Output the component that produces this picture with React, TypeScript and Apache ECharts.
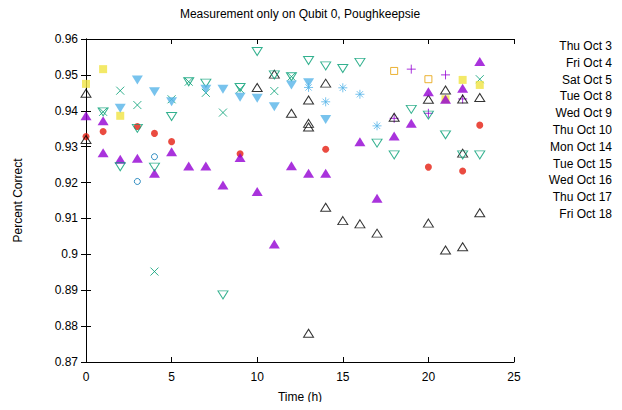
import React, { useEffect, useRef } from "react";
import * as echarts from "echarts";

const title = "Measurement only on Qubit 0, Poughkeepsie";
const xName = "Time (h)";
const yName = "Percent Correct";

const seriesNames = [
  "Thu Oct 3", "Fri Oct 4", "Sat Oct 5", "Tue Oct 8", "Wed Oct 9", "Thu Oct 10",
  "Mon Oct 14", "Tue Oct 15", "Wed Oct 16", "Thu Oct 17", "Fri Oct 18",
];

const thuOct3: [number, number][] = [[18, 0.9379], [19, 0.9516], [20, 0.9393], [21, 0.95], [22, 0.9433]];
const friOct4: [number, number][] = [[1, 0.9397], [2, 0.9456], [3, 0.9416], [4, 0.8952], [5, 0.9432], [6, 0.9481], [7, 0.945], [8, 0.9395], [9, 0.946], [11, 0.9455], [12, 0.9495], [23, 0.9488]];
const satOct5: [number, number][] = [[13, 0.9465], [14, 0.9425], [15, 0.9464], [16, 0.9446], [17, 0.9358]];
const tueOct8: [number, number][] = [[18, 0.9511], [20, 0.9488]];
const wedOct9: [number, number][] = [[0, 0.9475], [1, 0.9516], [2, 0.9386], [21, 0.9432], [22, 0.9486], [23, 0.9472]];
const thuOct10: [number, number][] = [[3, 0.9203], [4, 0.9272]];
const monOct14: [number, number][] = [[0, 0.9328], [1, 0.9342], [3, 0.9356], [4, 0.9337], [5, 0.9314], [9, 0.928], [14, 0.9293], [20, 0.9243], [22, 0.9232], [23, 0.936]];
const tueOct15: [number, number][] = [[0, 0.9449], [0, 0.932], [10, 0.9465], [11, 0.9502], [12, 0.9393], [13, 0.943], [13, 0.9365], [13, 0.9355], [13, 0.878], [14, 0.9477], [14, 0.9131], [15, 0.9094], [16, 0.9085], [17, 0.9059], [18, 0.9382], [20, 0.9432], [20, 0.9087], [21, 0.9458], [21, 0.9012], [22, 0.9433], [22, 0.9282], [22, 0.9021], [23, 0.9437], [23, 0.9116]];
const wedOct16: [number, number][] = [[0, 0.9386], [1, 0.9372], [1, 0.9283], [2, 0.9265], [3, 0.9268], [4, 0.9226], [5, 0.9286], [6, 0.9246], [7, 0.9246], [8, 0.9193], [9, 0.927], [10, 0.9175], [11, 0.9029], [12, 0.9247], [13, 0.9226], [14, 0.9226], [16, 0.9314], [17, 0.9156], [18, 0.933], [19, 0.9365], [20, 0.9453], [21, 0.9432], [22, 0.9463], [23, 0.9537]];
const thuOct17: [number, number][] = [[1, 0.9397], [2, 0.9244], [3, 0.9351], [4, 0.9243], [5, 0.9384], [6, 0.9481], [7, 0.9477], [8, 0.8887], [9, 0.9465], [10, 0.9565], [11, 0.95], [12, 0.9495], [13, 0.954], [14, 0.9525], [15, 0.9518], [16, 0.9535], [17, 0.931], [18, 0.9277], [19, 0.9404], [20, 0.9388], [21, 0.9333], [22, 0.9277], [23, 0.9277]];
const friOct18: [number, number][] = [[2, 0.9407], [3, 0.9486], [4, 0.9453], [5, 0.9425], [7, 0.946], [8, 0.946], [9, 0.9438], [10, 0.9435], [11, 0.9411], [12, 0.9472], [13, 0.9478], [14, 0.9376]];

const allData = [thuOct3, friOct4, satOct5, tueOct8, wedOct9, thuOct10, monOct14, tueOct15, wedOct16, thuOct17, friOct18];

const colors = ["#9400D3", "#009E73", "#56B4E9", "#E69F00", "#F0E442", "#0072B2", "#E51E10", "#000000", "#9400D3", "#009E73", "#56B4E9"];

const PLUS = "path://M0 5L10 5M5 0L5 10";
const CROSS = "path://M0 0L10 10M10 0L0 10";
const STAR = "path://M0 5L10 5M5 0L5 10M1.5 1.5L8.5 8.5M8.5 1.5L1.5 8.5";

type Mk = { symbol: string; size: number | number[]; filled: boolean; rotate?: number };
const markers: Mk[] = [
  { symbol: PLUS, size: 9, filled: false },
  { symbol: CROSS, size: 8, filled: false },
  { symbol: STAR, size: 9, filled: false },
  { symbol: "rect", size: 7, filled: false },
  { symbol: "rect", size: 8, filled: true },
  { symbol: "circle", size: 6, filled: false },
  { symbol: "circle", size: 7, filled: true },
  { symbol: "triangle", size: [10, 8], filled: false },
  { symbol: "triangle", size: [11, 9], filled: true },
  { symbol: "triangle", size: [10, 8], filled: false, rotate: 180 },
  { symbol: "triangle", size: [11, 9], filled: true, rotate: 180 },
];

const FONT = "Liberation Sans, Arial, sans-serif";

export default function App() {
  const ref = useRef<HTMLDivElement>(null);
  useEffect(() => {
    if (!ref.current) return;
    const chart = echarts.init(ref.current, null, { renderer: "svg" });
    const series = allData.map((d, i) => {
      const m = markers[i];
      return {
        name: seriesNames[i],
        type: "scatter",
        data: d,
        symbol: m.symbol,
        symbolSize: m.size,
        symbolRotate: m.rotate || 0,
        itemStyle: m.filled
          ? { color: colors[i], borderWidth: 0 }
          : { color: "rgba(0,0,0,0)", borderColor: colors[i], borderWidth: 1 },
        emphasis: { disabled: true },
      };
    });
    const legendTexts = seriesNames.map((n, i) => ({
      type: "text",
      x: 612,
      y: 46 + i * 16.8,
      style: { text: n, font: `12px ${FONT}`, fill: "#000", textAlign: "right", textVerticalAlign: "middle" },
    }));
    const axisLabel = { color: "#000", fontSize: 12, fontFamily: FONT };
    chart.setOption({
      animation: false,
      title: {
        text: title,
        left: 300,
        textAlign: "center",
        top: 8,
        padding: 0,
        textStyle: { fontSize: 12, fontWeight: "normal", color: "#000", fontFamily: FONT },
      },
      grid: { left: 86, right: 108, top: 39, bottom: 48 },
      xAxis: [
        {
          type: "value", min: 0, max: 25, interval: 5,
          name: xName, nameLocation: "middle", nameGap: 29,
          nameTextStyle: { color: "#000", fontSize: 12, fontFamily: FONT },
          axisLine: { show: true, lineStyle: { color: "#000", width: 1 } },
          axisTick: { show: true, inside: true, length: 5, lineStyle: { color: "#000" } },
          axisLabel: { ...axisLabel, margin: 9 },
          splitLine: { show: false },
        },
        {
          type: "value", min: 0, max: 25, interval: 5, position: "top",
          axisLine: { show: true, lineStyle: { color: "#000", width: 1 } },
          axisTick: { show: true, inside: true, length: 5, lineStyle: { color: "#000" } },
          axisLabel: { show: false },
          splitLine: { show: false },
        },
      ],
      yAxis: [
        {
          type: "value", min: 0.87, max: 0.96, interval: 0.01,
          name: yName, nameLocation: "middle", nameGap: 62,
          nameTextStyle: { color: "#000", fontSize: 12, fontFamily: FONT },
          axisLine: { show: true, lineStyle: { color: "#000", width: 1 } },
          axisTick: { show: true, inside: true, length: 5, lineStyle: { color: "#000" } },
          axisLabel: { ...axisLabel, margin: 8, formatter: (v: number) => String(parseFloat(v.toFixed(2))) },
          splitLine: { show: false },
        },
        {
          type: "value", min: 0.87, max: 0.96, interval: 0.01, position: "right",
          axisLine: { show: true, lineStyle: { color: "#000", width: 1 } },
          axisTick: { show: true, inside: true, length: 5, lineStyle: { color: "#000" } },
          axisLabel: { show: false },
          splitLine: { show: false },
        },
      ],
      series,
      graphic: legendTexts,
    });
    return () => chart.dispose();
  }, []);
  return <div ref={ref} style={{ width: 622, height: 410, margin: -8 }} />;
}
